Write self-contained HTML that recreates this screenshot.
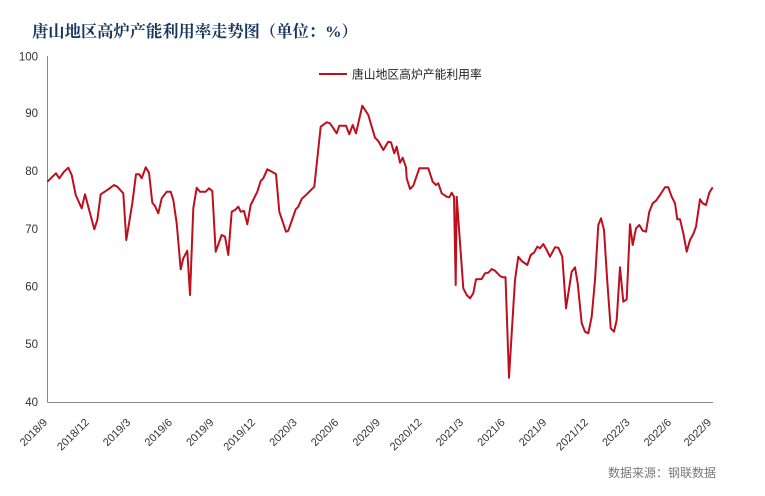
<!DOCTYPE html>
<html>
<head>
<meta charset="utf-8">
<style>
  html,body{margin:0;padding:0;background:#fff;}
  body{width:765px;height:496px;overflow:hidden;}
  svg{display:block;}
</style>
</head>
<body>
<svg width="765" height="496" viewBox="0 0 765 496" xmlns="http://www.w3.org/2000/svg">
  <rect width="765" height="496" fill="#fff"/>
  <!-- Title -->
  <text x="32" y="37" font-family="'Liberation Serif','Noto Serif CJK SC',serif" font-weight="bold" font-size="16.3" fill="#17375E">唐山地区高炉产能利用率走势图（单位：%）</text>

  <!-- Y axis labels -->
  <g font-family="'Liberation Sans',sans-serif" font-size="11.5" fill="#333" text-anchor="end">
    <text x="38" y="60.5">100</text>
    <text x="38" y="117">90</text>
    <text x="38" y="175">80</text>
    <text x="38" y="233">70</text>
    <text x="38" y="290.5">60</text>
    <text x="38" y="348">50</text>
    <text x="38" y="406">40</text>
  </g>

  <!-- Axes -->
  <line x1="47.5" y1="56" x2="47.5" y2="402.5" stroke="#888" stroke-width="1"/>
  <line x1="47.5" y1="402.5" x2="713" y2="402.5" stroke="#888" stroke-width="1"/>

  <!-- X labels -->
  <g font-family="'Liberation Sans',sans-serif" font-size="11" fill="#333" text-anchor="end">
    <text transform="translate(48,423) rotate(-45)">2018/9</text>
    <text transform="translate(89.6,423) rotate(-45)">2018/12</text>
    <text transform="translate(131.2,423) rotate(-45)">2019/3</text>
    <text transform="translate(172.8,423) rotate(-45)">2019/6</text>
    <text transform="translate(214.4,423) rotate(-45)">2019/9</text>
    <text transform="translate(256,423) rotate(-45)">2019/12</text>
    <text transform="translate(297.6,423) rotate(-45)">2020/3</text>
    <text transform="translate(339.2,423) rotate(-45)">2020/6</text>
    <text transform="translate(380.8,423) rotate(-45)">2020/9</text>
    <text transform="translate(422.4,423) rotate(-45)">2020/12</text>
    <text transform="translate(464,423) rotate(-45)">2021/3</text>
    <text transform="translate(505.6,423) rotate(-45)">2021/6</text>
    <text transform="translate(547.2,423) rotate(-45)">2021/9</text>
    <text transform="translate(588.8,423) rotate(-45)">2021/12</text>
    <text transform="translate(630.4,423) rotate(-45)">2022/3</text>
    <text transform="translate(672,423) rotate(-45)">2022/6</text>
    <text transform="translate(712,423) rotate(-45)">2022/9</text>
  </g>

  <!-- Legend -->
  <line x1="319" y1="74" x2="347" y2="74" stroke="#BE0F1E" stroke-width="2"/>
  <text x="352" y="78.5" font-family="'Liberation Sans','Noto Sans CJK SC',sans-serif" font-size="11.8" fill="#222">唐山地区高炉产能利用率</text>

  <!-- Series -->
  <polyline fill="none" stroke="#BE0F1E" stroke-width="2" stroke-linejoin="round" points="47.3,181.7 56,173.3 59.3,178.3 64,171.7 68.3,167.7 71.7,175 75.7,195 81.7,208.3 85,194.3 88.3,206.7 94.3,229.3 97.3,220 100.7,194.3 108.3,189.3 114,185 117.3,186.7 123.3,193.3 126.3,240 132.3,203.3 136,174.3 139.3,174.3 141.7,178.3 145.7,167.3 149,172.7 152.3,202.7 155,206 158.3,213.3 161.7,198.3 166.7,191.7 170.7,191.7 173.3,200 176.7,223.3 180.7,269.3 183.3,258.3 187.3,250.7 190,295 193.3,208.3 196.7,187.7 200,191.7 205.7,191.7 209,188.3 212.3,191 215.7,251.7 221.7,235 225,236.7 228.3,255 231.7,211.7 235,210 238.3,206.7 240.7,211.7 244,211 247.3,224.3 250.7,205 257.3,191.7 260.7,181 263.3,178.3 267.3,169.3 276,174 279.3,211.7 286,231.7 288.3,230.7 295.7,209.3 298.3,206.7 301.7,199 308.3,192.7 314.3,186.7 320.7,126.7 326.7,122.3 330,123.3 336.7,133.3 339.3,125.7 346,125.7 349.3,134.3 352.7,125 356,133.3 362.3,105.7 368.3,115 375,137.7 378.3,141 383.3,150 388.3,141.7 391,142.3 394.3,153.3 396.7,146.7 400,162.7 402.7,157.7 406,167.3 406.7,178.3 410,189 413.3,185.7 419.3,168.3 428.3,168.3 432.7,181.7 436,185 438.3,183.3 441.7,193.3 446.7,196.7 449.3,197.3 451.7,192.7 454,196.7 455.7,285 456.7,196.7 463.3,288.3 466.7,295 470,298.3 473.3,293.3 476,279.3 481.7,279 485,273.3 488.3,272.7 491.7,269 495,270.7 500,276 502.7,277.3 505.5,277.3 509,377.7 511.7,333.3 515,280 518.3,256.7 521.7,261 527.3,265 530.7,255 534,252.7 537.3,246.7 540,248.3 543.3,244 546.7,250 550,256.7 555,247.3 558.3,247.7 562.3,256.7 566,308.3 571.7,271.7 575,267.3 577.7,283.3 581.7,323.3 585,331.7 588.3,333.3 591.7,316.7 595,280 598.3,225 601,218.3 604,230 607.3,281.7 610.7,328.3 614,331.7 616.7,320 620,267.3 623.3,301.7 626.7,299.3 630,224.3 632.7,245 636,228.3 639.3,225 642.7,230.7 646,231.7 649.3,211.7 652.7,203.3 656,200.7 660,195 665,187.3 668.3,187.3 671.7,196.7 675,203.3 677.3,219.3 680,219.3 683.3,233.3 686.7,251.7 690,240 693.3,234 696,226.7 700,199.3 702.7,203.3 706,205 709.3,192.7 712.7,187.3"/>

  <!-- Source -->
  <text x="608" y="477" font-family="'Liberation Sans','Noto Sans CJK SC',sans-serif" font-size="12" fill="#777">数据来源：钢联数据</text>
</svg>
</body>
</html>
